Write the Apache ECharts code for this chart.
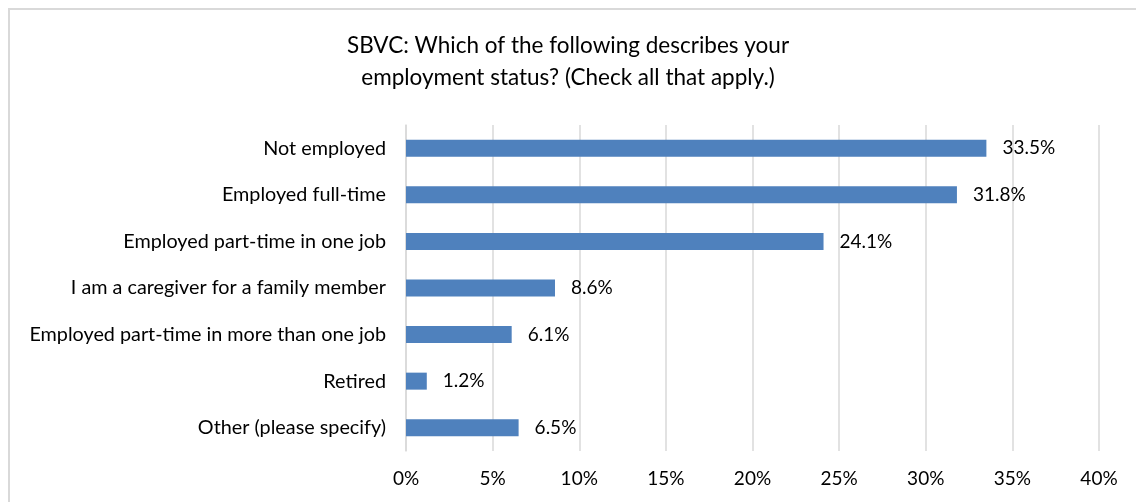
<!DOCTYPE html>
<html>
<head>
<meta charset="utf-8">
<script src="https://cdn.jsdelivr.net/npm/echarts@6/dist/echarts.min.js"></script>
<style>
html,body{margin:0;padding:0;background:#fff;overflow:hidden;}
#frame{position:absolute;left:8px;top:8px;width:1160px;height:540px;border:2px solid #d9d9d9;box-sizing:border-box;}
#chart{position:absolute;left:0;top:0;width:1136px;height:502px;}
</style>
</head>
<body>
<div id="frame"></div>
<div id="chart"></div>
<script>
const titleLines = ["SBVC: Which of the following describes your", "employment status? (Check all that apply.)"];
const categories = [
  "Not employed",
  "Employed full-time",
  "Employed part-time in one job",
  "I am a caregiver for a family member",
  "Employed part-time in more than one job",
  "Retired",
  "Other (please specify)"
];
const values = [33.5, 31.8, 24.1, 8.6, 6.1, 1.2, 6.5];
const axisMax = 40;
const axisStep = 5;

const font = "Lato, 'Open Sans', sans-serif";
const chart = echarts.init(document.getElementById('chart'), null, {renderer: 'canvas'});
chart.setOption({
  animation: false,
  backgroundColor: 'transparent',
  title: {
    text: titleLines.join('\n'),
    left: 'center',
    top: 25,
    textStyle: {fontFamily: font, fontSize: 22.5, fontWeight: 'normal', color: '#000', lineHeight: 32}
  },
  grid: {left: 406, right: 37, top: 125, bottom: 51, containLabel: false},
  xAxis: {
    type: 'value',
    min: 0, max: axisMax, interval: axisStep,
    axisLine: {show: false},
    axisTick: {show: false},
    splitLine: {show: true, lineStyle: {color: '#d9d9d9', width: 1.5}},
    axisLabel: {formatter: '{value}%', fontFamily: font, fontSize: 19, color: '#000', margin: 18}
  },
  yAxis: {
    type: 'category',
    data: categories,
    inverse: true,
    axisLine: {show: true, lineStyle: {color: '#d9d9d9', width: 1.5}},
    axisTick: {show: false},
    axisLabel: {fontFamily: font, fontSize: 19.8, color: '#000', margin: 20}
  },
  series: [{
    type: 'bar',
    data: values,
    barWidth: 17,
    itemStyle: {color: '#4f81bd'},
    label: {
      show: true, position: 'right', distance: 16,
      formatter: p => p.value.toFixed(1) + '%',
      fontFamily: font, fontSize: 19, color: '#000'
    }
  }]
});
</script>
</body>
</html>
